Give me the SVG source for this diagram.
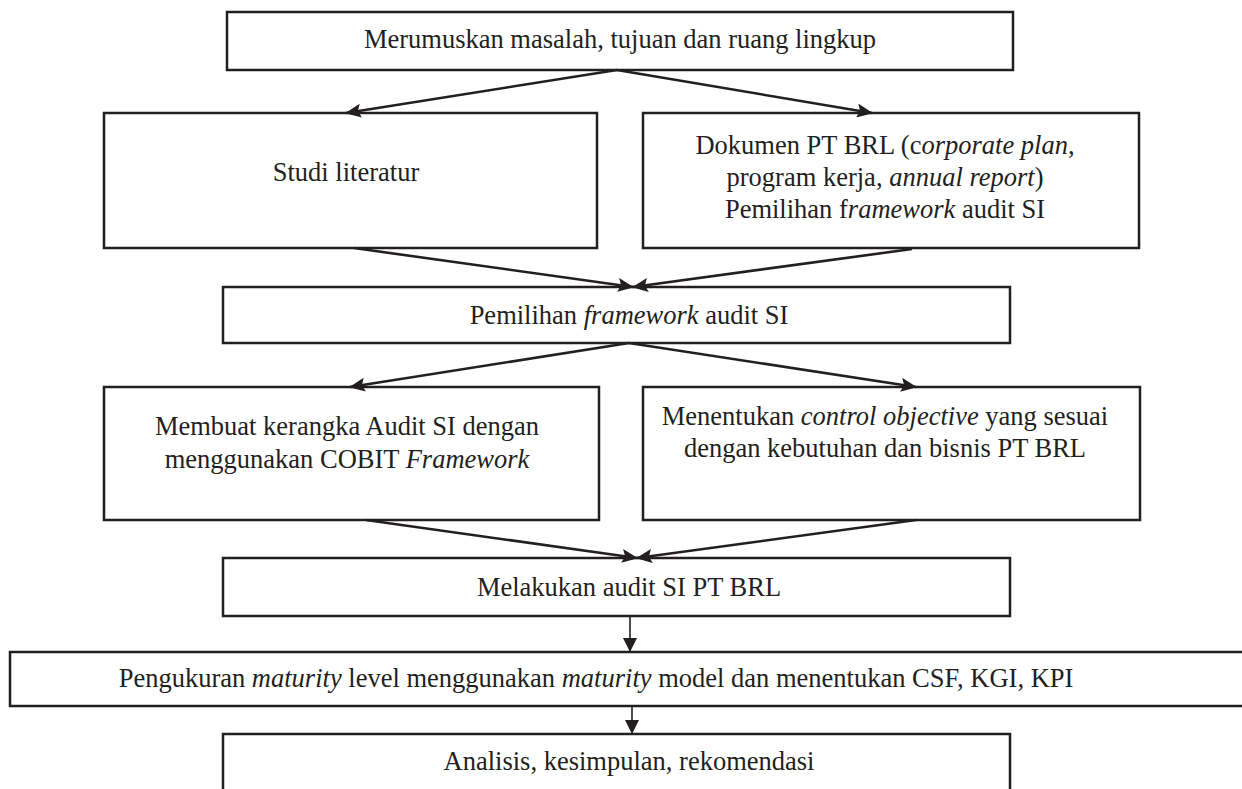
<svg xmlns="http://www.w3.org/2000/svg" width="1242" height="789" viewBox="0 0 1242 789">
<style>
.box{fill:#fff;stroke:#231f20;stroke-width:2.5}
.t{font-family:"Liberation Serif","Times New Roman",serif;font-size:26.5px;fill:#231f20;text-anchor:middle}
.i{font-style:italic}
.c{stroke:#231f20;stroke-width:2.6;fill:none}
.v{stroke:#231f20;stroke-width:1.6;fill:none}
</style>
<defs>
<marker id="ah" markerUnits="userSpaceOnUse" markerWidth="16" markerHeight="14" refX="15" refY="7" orient="auto">
<path d="M0,0 L16,7 L0,14 L3,7 Z" fill="#231f20"/>
</marker>
<marker id="av" markerUnits="userSpaceOnUse" markerWidth="14" markerHeight="14" refX="14" refY="7" orient="auto">
<path d="M0,0 L14,7 L0,14 Z" fill="#231f20"/>
</marker>
</defs>
<rect width="1242" height="789" fill="#fff"/>
<g id="n1"><rect class="box" x="227" y="12" width="786" height="58"/>
<text class="t" x="620" y="48">Merumuskan masalah, tujuan dan ruang lingkup</text></g>
<g id="n2"><rect class="box" x="104" y="113" width="493" height="135"/>
<text class="t" x="346" y="181">Studi literatur</text></g>
<g id="n3"><rect class="box" x="643" y="113" width="496" height="135"/>
<text class="t" x="885" y="154">Dokumen PT BRL (c<tspan class="i">orporate plan</tspan>,</text>
<text class="t" x="885" y="186">program kerja, <tspan class="i">annual report</tspan>)</text>
<text class="t" x="885" y="218">Pemilihan f<tspan class="i">ramework</tspan> audit SI</text></g>
<g id="n4"><rect class="box" x="223" y="287" width="787" height="56"/>
<text class="t" x="629" y="324">Pemilihan <tspan class="i">framework</tspan> audit SI</text></g>
<g id="n5"><rect class="box" x="104" y="387" width="495" height="133"/>
<text class="t" x="347" y="435">Membuat kerangka Audit SI dengan</text>
<text class="t" x="347" y="468">menggunakan COBIT <tspan class="i">Framework</tspan></text></g>
<g id="n6"><rect class="box" x="643" y="387" width="497" height="133"/>
<text class="t" x="885" y="425">Menentukan <tspan class="i">control objective</tspan> yang sesuai</text>
<text class="t" x="885" y="457">dengan kebutuhan dan bisnis PT BRL</text></g>
<g id="n7"><rect class="box" x="223" y="558" width="787" height="58"/>
<text class="t" x="629" y="596">Melakukan audit SI PT BRL</text></g>
<g id="n8"><rect class="box" x="10" y="652" width="1245" height="54"/>
<text class="t" x="596" y="687">Pengukuran <tspan class="i">maturity</tspan> level menggunakan <tspan class="i">maturity</tspan> model dan menentukan CSF, KGI, KPI</text></g>
<g id="n9"><rect class="box" x="223" y="734" width="787" height="70"/>
<text class="t" x="629" y="770">Analisis, kesimpulan, rekomendasi</text></g>
<g id="connectors">
<line class="c" x1="617" y1="70" x2="346" y2="113" marker-end="url(#ah)"/>
<line class="c" x1="617" y1="70" x2="872" y2="113" marker-end="url(#ah)"/>
<line class="c" x1="354" y1="248" x2="633" y2="287" marker-end="url(#ah)"/>
<line class="c" x1="912" y1="249" x2="633" y2="287" marker-end="url(#ah)"/>
<line class="c" x1="629" y1="343" x2="350" y2="387" marker-end="url(#ah)"/>
<line class="c" x1="629" y1="343" x2="916" y2="387" marker-end="url(#ah)"/>
<line class="c" x1="366" y1="520" x2="637" y2="558" marker-end="url(#ah)"/>
<line class="c" x1="916" y1="520" x2="637" y2="558" marker-end="url(#ah)"/>
<line class="v" x1="630" y1="616" x2="630" y2="652" marker-end="url(#av)"/>
<line class="v" x1="632" y1="706" x2="632" y2="734" marker-end="url(#av)"/>
</g>
</svg>
